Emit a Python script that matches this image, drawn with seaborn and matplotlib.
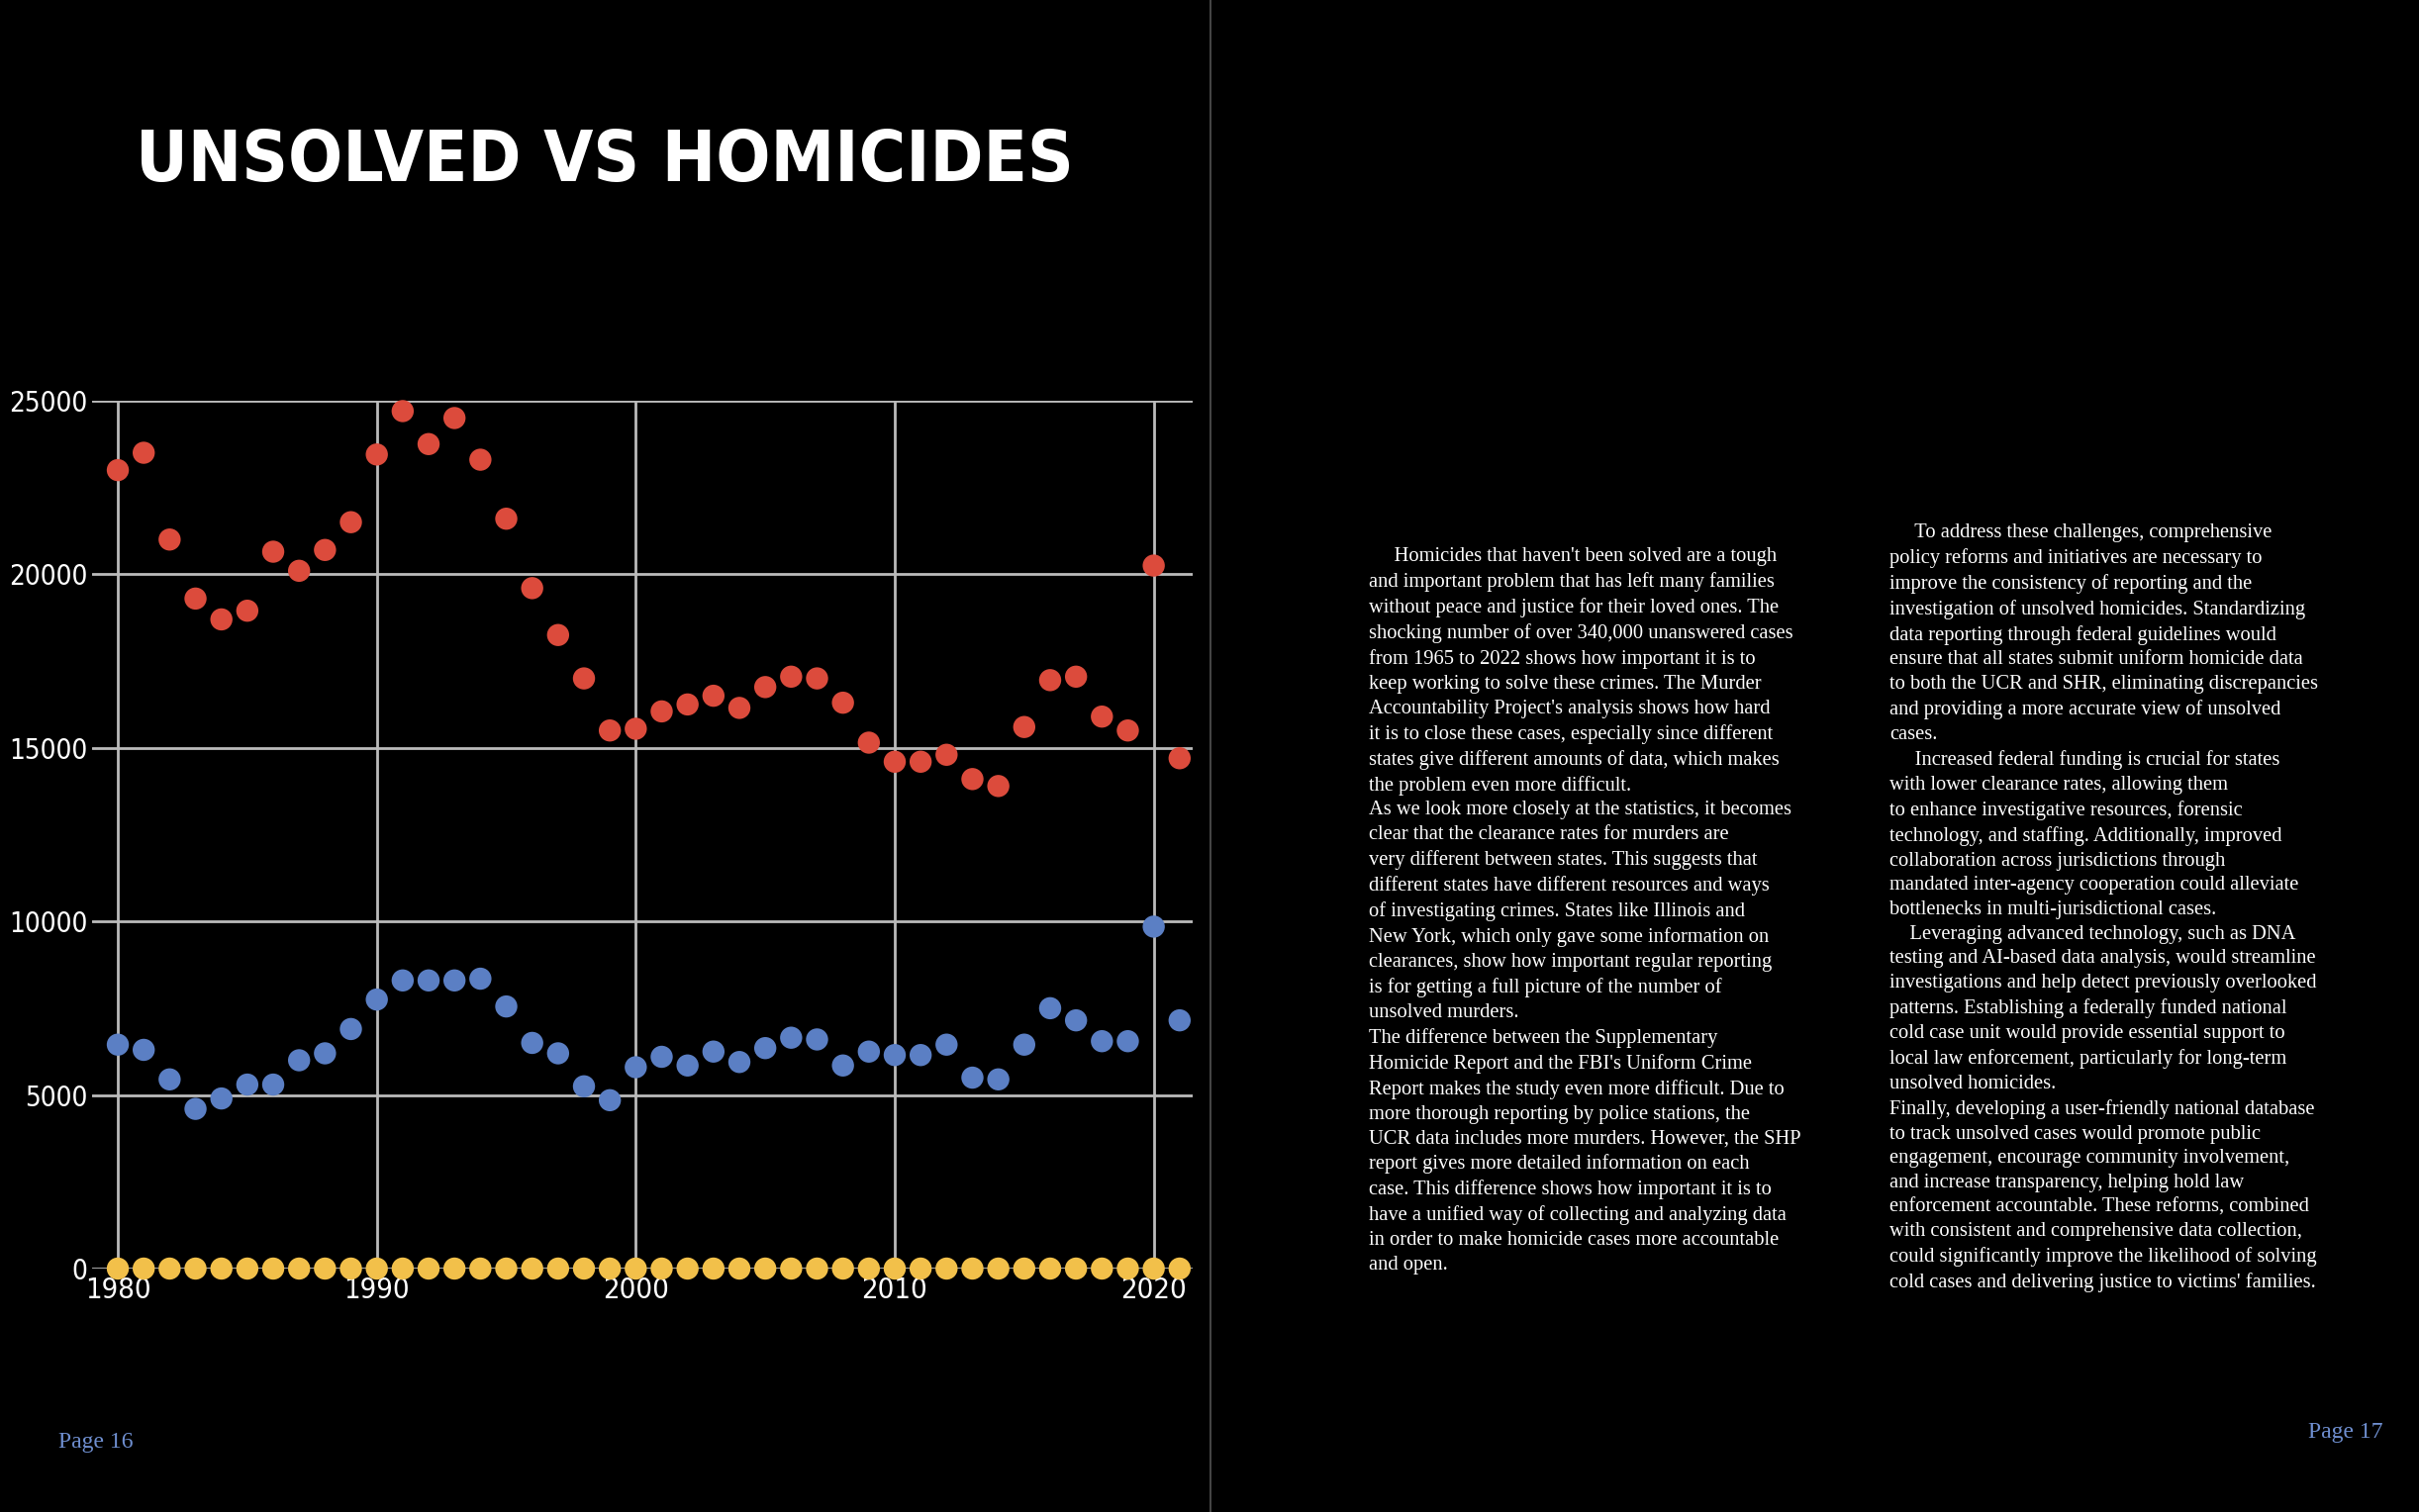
import matplotlib
matplotlib.use("Agg")
import matplotlib.pyplot as plt
import seaborn as sns
import pandas as pd
from matplotlib.lines import Line2D

years = list(range(1980, 2022))
homicides = [23000, 23500, 21000, 19300, 18700, 18950, 20650, 20100, 20700, 21500,
             23450, 24700, 23750, 24500, 23300, 21600, 19600, 18250, 17000, 15500,
             15550, 16050, 16250, 16500, 16150, 16750, 17050, 17000, 16300, 15150,
             14600, 14600, 14800, 14100, 13900, 15600, 16950, 17050, 15900, 15500,
             20250, 14700]
unsolved = [6450, 6300, 5450, 4600, 4900, 5300, 5300, 6000, 6200, 6900,
            7750, 8300, 8300, 8300, 8350, 7550, 6500, 6200, 5250, 4850,
            5800, 6100, 5850, 6250, 5950, 6350, 6650, 6600, 5850, 6250,
            6150, 6150, 6450, 5500, 5450, 6450, 7500, 7150, 6550, 6550,
            9850, 7150]
third = [0] * len(years)
xticks = [1980, 1990, 2000, 2010, 2020]
yticks = [0, 5000, 10000, 15000, 20000, 25000]

sns.set_theme(style="dark")
plt.rcParams['font.family'] = ['DejaVu Sans']
plt.rcParams['font.stretch'] = 'condensed'

fig = plt.figure(figsize=(24.44, 15.28), dpi=100, facecolor="black")
ax = fig.add_axes([0.038, 0.161, 0.455, 0.574])
ax.set_facecolor("black")

df = pd.DataFrame({"year": years * 3,
                   "value": homicides + unsolved + third,
                   "series": ["Homicides"] * 42 + ["Unsolved"] * 42 + ["Other"] * 42})
sns.scatterplot(data=df, x="year", y="value", hue="series",
                palette={"Homicides": "#dc4b3c", "Unsolved": "#5b7fc4", "Other": "#f2c04a"},
                s=260, linewidth=0, legend=False, ax=ax, clip_on=False, zorder=3)

ax.set_xlim(1979, 2021.5)
ax.set_ylim(0, 25000)
ax.set_xticks(xticks)
ax.set_yticks(yticks)
ax.grid(True, color="#bbbbbb", linewidth=2)
for s in ax.spines.values():
    s.set_visible(False)
ax.tick_params(axis="x", colors="white", labelsize=21, length=0, pad=6)
ax.tick_params(axis="y", colors="white", labelsize=20, length=0, pad=3)
for lab in ax.get_xticklabels() + ax.get_yticklabels():
    lab.set_color("white")
    lab.set_fontstretch('condensed')
ax.set_xlabel("")
ax.set_ylabel("")

fig.text(0.056, 0.893, "UNSOLVED VS HOMICIDES", color="white", fontsize=52,
         fontweight="bold", va="center", ha="left", fontstretch='condensed')

fig.add_artist(Line2D([0.5006, 0.5006], [0, 1], color="#444444", linewidth=1.5))

left_text = """     Homicides that haven't been solved are a tough
and important problem that has left many families
without peace and justice for their loved ones. The
shocking number of over 340,000 unanswered cases
from 1965 to 2022 shows how important it is to
keep working to solve these crimes. The Murder
Accountability Project's analysis shows how hard
it is to close these cases, especially since different
states give different amounts of data, which makes
the problem even more difficult.
As we look more closely at the statistics, it becomes
clear that the clearance rates for murders are
very different between states. This suggests that
different states have different resources and ways
of investigating crimes. States like Illinois and
New York, which only gave some information on
clearances, show how important regular reporting
is for getting a full picture of the number of
unsolved murders.
The difference between the Supplementary
Homicide Report and the FBI's Uniform Crime
Report makes the study even more difficult. Due to
more thorough reporting by police stations, the
UCR data includes more murders. However, the SHP
report gives more detailed information on each
case. This difference shows how important it is to
have a unified way of collecting and analyzing data
in order to make homicide cases more accountable
and open."""

right_text = """     To address these challenges, comprehensive
policy reforms and initiatives are necessary to
improve the consistency of reporting and the
investigation of unsolved homicides. Standardizing
data reporting through federal guidelines would
ensure that all states submit uniform homicide data
to both the UCR and SHR, eliminating discrepancies
and providing a more accurate view of unsolved
cases.
     Increased federal funding is crucial for states
with lower clearance rates, allowing them
to enhance investigative resources, forensic
technology, and staffing. Additionally, improved
collaboration across jurisdictions through
mandated inter-agency cooperation could alleviate
bottlenecks in multi-jurisdictional cases.
    Leveraging advanced technology, such as DNA
testing and AI-based data analysis, would streamline
investigations and help detect previously overlooked
patterns. Establishing a federally funded national
cold case unit would provide essential support to
local law enforcement, particularly for long-term
unsolved homicides.
Finally, developing a user-friendly national database
to track unsolved cases would promote public
engagement, encourage community involvement,
and increase transparency, helping hold law
enforcement accountable. These reforms, combined
with consistent and comprehensive data collection,
could significantly improve the likelihood of solving
cold cases and delivering justice to victims' families."""

serif = ['Liberation Serif', 'DejaVu Serif']
fig.text(0.566, 0.638, left_text, color="white", fontsize=14.8, va="top", ha="left",
         linespacing=1.41, family=serif)
fig.text(0.781, 0.654, right_text, color="white", fontsize=14.8, va="top", ha="left",
         linespacing=1.41, family=serif)

fig.text(0.024, 0.046, "Page 16", color="#6f8fd0", fontsize=17, va="center", family=serif)
fig.text(0.954, 0.053, "Page 17", color="#6f8fd0", fontsize=17, va="center", family=serif)

fig.savefig("out.png", dpi=100, facecolor="black")
